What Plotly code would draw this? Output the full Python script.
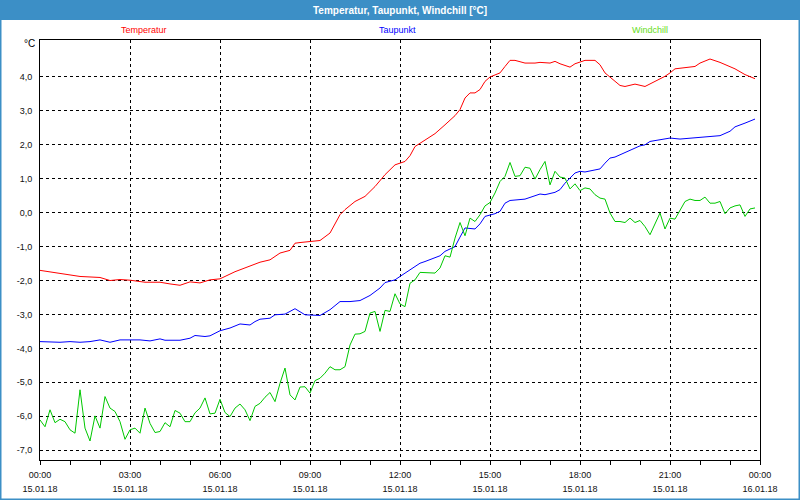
import pandas as pd
import plotly.graph_objects as go

# ---------------- data ----------------
day0 = pd.Timestamp("2018-01-15 00:00")

temp_minutes = [0, 40, 80, 120, 140, 160, 180, 210, 240, 260, 280, 300, 320, 340, 360, 390,
                420, 440, 460, 480, 500, 510, 520, 540, 560, 580, 600, 610, 630, 650, 670,
                690, 710, 730, 740, 750, 770, 790, 810, 830, 840, 850, 860, 870, 880, 890,
                900, 920, 930, 940, 950, 970, 990, 1000, 1020, 1030, 1040, 1060, 1070, 1090,
                1110, 1120, 1130, 1150, 1160, 1170, 1190, 1210, 1230, 1250, 1260, 1270,
                1310, 1320, 1340, 1360, 1390, 1410, 1430]
temperatur = [-1.70, -1.78, -1.88, -1.91, -2.00, -1.97, -1.99, -2.05, -2.05, -2.10, -2.14,
              -2.04, -2.07, -1.98, -1.95, -1.74, -1.57, -1.46, -1.39, -1.19, -1.11, -0.90,
              -0.88, -0.85, -0.82, -0.60, -0.06, 0.09, 0.33, 0.48, 0.77, 1.12, 1.41, 1.51,
              1.68, 1.95, 2.15, 2.33, 2.59, 2.86, 3.04, 3.38, 3.53, 3.53, 3.63, 3.87, 4.00,
              4.12, 4.31, 4.49, 4.49, 4.41, 4.41, 4.43, 4.41, 4.46, 4.39, 4.29, 4.39, 4.49,
              4.49, 4.36, 4.12, 3.87, 3.75, 3.72, 3.79, 3.72, 3.87, 4.02, 4.12, 4.24, 4.31,
              4.41, 4.53, 4.43, 4.24, 4.07, 3.95]

dew_minutes = [0, 20, 40, 60, 80, 100, 120, 140, 160, 180, 200, 220, 240, 250, 280, 300,
               310, 330, 340, 360, 380, 400, 420, 430, 440, 460, 470, 490, 510, 530, 540,
               560, 580, 600, 620, 640, 660, 680, 690, 710, 720, 730, 750, 760, 770, 790,
               800, 810, 830, 840, 850, 870, 880, 890, 910, 920, 930, 940, 970, 990, 1000,
               1010, 1030, 1040, 1050, 1070, 1080, 1090, 1120, 1130, 1140, 1150, 1170, 1190,
               1200, 1210, 1220, 1240, 1260, 1280, 1300, 1320, 1340, 1360, 1380, 1390, 1410,
               1430]
taupunkt = [-3.80, -3.82, -3.82, -3.80, -3.82, -3.80, -3.75, -3.82, -3.75, -3.75, -3.75,
            -3.78, -3.72, -3.76, -3.76, -3.70, -3.62, -3.65, -3.63, -3.48, -3.40, -3.28,
            -3.31, -3.21, -3.14, -3.11, -3.01, -2.99, -2.83, -3.01, -3.01, -3.03, -2.86,
            -2.62, -2.62, -2.59, -2.44, -2.22, -2.06, -1.98, -1.88, -1.78, -1.60, -1.49,
            -1.44, -1.34, -1.27, -1.14, -1.00, -0.72, -0.45, -0.48, -0.33, -0.11, -0.03,
            0.04, 0.28, 0.36, 0.40, 0.50, 0.55, 0.53, 0.60, 0.68, 0.87, 1.17, 1.22, 1.20,
            1.29, 1.46, 1.61, 1.64, 1.78, 1.91, 1.97, 2.00, 2.10, 2.15, 2.20, 2.17, 2.19,
            2.23, 2.25, 2.27, 2.40, 2.53, 2.64, 2.76]

# windchill: one value every 10 minutes from 00:00 to 23:50
windchill = [-6.11, -6.31, -5.81, -6.19, -6.09, -6.16, -6.40, -6.50, -5.22, -6.35, -6.73,
             -5.99, -6.35, -5.42, -5.76, -5.86, -6.16, -6.68, -6.40, -6.35, -6.50, -5.76,
             -6.21, -6.48, -6.45, -6.19, -6.31, -5.83, -5.91, -6.16, -6.16, -5.90, -5.76,
             -5.46, -5.93, -5.91, -5.50, -5.89, -6.01, -5.76, -5.64, -5.81, -6.13, -5.71,
             -5.62, -5.44, -5.30, -5.57, -5.03, -4.58, -5.37, -5.52, -5.14, -5.13, -5.32,
             -4.95, -4.88, -4.73, -4.54, -4.63, -4.63, -4.54, -3.90, -3.58, -3.57, -3.50,
             -2.96, -2.91, -3.50, -2.88, -2.91, -2.39, -2.69, -2.77, -2.08, -1.98, -1.76,
             -1.76, -1.78, -1.78, -1.63, -1.27, -1.31, -0.75, -0.29, -0.68, -0.16, -0.26,
             -0.06, 0.20, 0.30, 0.58, 0.92, 1.07, 1.48, 1.07, 1.09, 1.34, 1.31, 0.99, 1.27,
             1.51, 0.82, 1.22, 1.05, 1.02, 0.70, 0.85, 0.65, 0.73, 0.70, 0.53, 0.43, 0.40,
             -0.01, -0.26, -0.26, -0.29, -0.16, -0.29, -0.23, -0.41, -0.65, -0.31, -0.01,
             -0.48, -0.16, -0.19, 0.09, 0.33, 0.40, 0.36, 0.36, 0.46, 0.28, 0.28, 0.33,
             -0.03, 0.14, 0.20, 0.23, -0.11, 0.11, 0.14]

series_names = ["Temperatur", "Taupunkt", "Windchill"]
x_time_labels = ["00:00", "03:00", "06:00", "09:00", "12:00", "15:00", "18:00", "21:00", "00:00"]
x_date_labels = ["15.01.18"] * 8 + ["16.01.18"]
y_tick_values = [-7, -6, -5, -4, -3, -2, -1, 0, 1, 2, 3, 4]
y_tick_labels = [f"{v:.1f}".replace(".", ",") for v in y_tick_values]
title_text = "Temperatur, Taupunkt, Windchill [°C]"
unit_text = "°C"

# ---------------- figure ----------------
t_temp = day0 + pd.to_timedelta(temp_minutes, unit="min")
t_dew = day0 + pd.to_timedelta(dew_minutes, unit="min")
t_wc = pd.date_range(day0, periods=len(windchill), freq="10min")
x_ticks = pd.date_range(day0, periods=len(x_time_labels), freq="3h")
x_range = [x_ticks[0], x_ticks[-1]]

FONT = "Liberation Sans"
RED, BLUE, GREEN = "#ff0000", "#0000ff", "#00c800"
FRAME = "#3c8fc6"

fig = go.Figure()
fig.add_trace(go.Scatter(x=t_temp, y=temperatur, mode="lines", name=series_names[0],
                         line=dict(color=RED, width=1)))
fig.add_trace(go.Scatter(x=t_dew, y=taupunkt, mode="lines", name=series_names[1],
                         line=dict(color=BLUE, width=1)))
fig.add_trace(go.Scatter(x=t_wc, y=windchill, mode="lines", name=series_names[2],
                         line=dict(color=GREEN, width=1)))
# invisible trace so the date axis is drawn
fig.add_trace(go.Scatter(x=[x_ticks[0]], y=[None], xaxis="x2", showlegend=False,
                         hoverinfo="skip"))

W, H = 800, 500
L, R, T, B = 40, 40, 40, 40
pw, ph = W - L - R, H - T - B


def px(xp):
    return (xp - L) / pw


def py(yp):
    return (H - B - yp) / ph


fig.update_layout(
    width=W, height=H,
    margin=dict(l=L, r=R, t=T, b=B, autoexpand=False),
    paper_bgcolor="white", plot_bgcolor="white",
    showlegend=False,
    font=dict(family=FONT, size=9, color="#000000"),
    xaxis=dict(
        type="date", range=x_range, automargin=False,
        tickmode="array", tickvals=x_ticks, ticktext=x_time_labels,
        ticks="outside", ticklen=4, tickcolor="black", tickwidth=1,
        minor=dict(dtick=3600000, tick0=day0, ticks="outside", ticklen=4,
                   tickcolor="black", showgrid=False),
        showgrid=True, gridcolor="black", griddash="3px,3px", gridwidth=1,
        showline=True, linecolor="black", linewidth=1, mirror=True,
        zeroline=False, ticklabelstandoff=2,
        tickfont=dict(family=FONT, size=9, color="#101010"),
    ),
    xaxis2=dict(
        type="date", range=x_range, overlaying="x", anchor="y", side="bottom",
        automargin=False,
        tickmode="array", tickvals=x_ticks, ticktext=x_date_labels,
        ticks="", showgrid=False, showline=False, zeroline=False,
        ticklabelstandoff=22,
        tickfont=dict(family=FONT, size=9, color="#101010"),
    ),
    yaxis=dict(
        range=[-7.29, 5.09], automargin=False,
        tickmode="array", tickvals=y_tick_values, ticktext=y_tick_labels,
        ticks="", ticklabelstandoff=5,
        showgrid=True, gridcolor="black", griddash="3px,3px", gridwidth=1,
        showline=True, linecolor="black", linewidth=1, mirror=True,
        zeroline=False,
        tickfont=dict(family=FONT, size=9, color="#101010"),
    ),
)

# title bar and frame
fig.add_shape(type="rect", xref="paper", yref="paper", layer="below",
              x0=px(0), x1=px(W), y0=py(20), y1=py(0),
              fillcolor=FRAME, line=dict(width=0))
fig.add_shape(type="rect", xref="paper", yref="paper",
              x0=px(0), x1=px(W), y0=py(H), y1=py(0),
              fillcolor="rgba(0,0,0,0)", line=dict(color=FRAME, width=3))

fig.add_annotation(text=f"<b>{title_text}</b>", xref="paper", yref="paper",
                   x=px(400), y=py(10), xanchor="center", yanchor="middle",
                   showarrow=False, font=dict(family=FONT, size=10, color="white"))

legend_colors = [RED, BLUE, "#66dd22"]
legend_x = [144, 397, 650]
for name, col, lx in zip(series_names, legend_colors, legend_x):
    fig.add_annotation(text=name, xref="paper", yref="paper", x=px(lx), y=py(30),
                       xanchor="center", yanchor="middle", showarrow=False,
                       font=dict(family=FONT, size=9, color=col))

fig.add_annotation(text=unit_text, xref="paper", yref="paper", x=px(37), y=py(44),
                   xanchor="right", yanchor="middle", showarrow=False,
                   font=dict(family=FONT, size=10, color="black"))

fig.write_html("out.html")
